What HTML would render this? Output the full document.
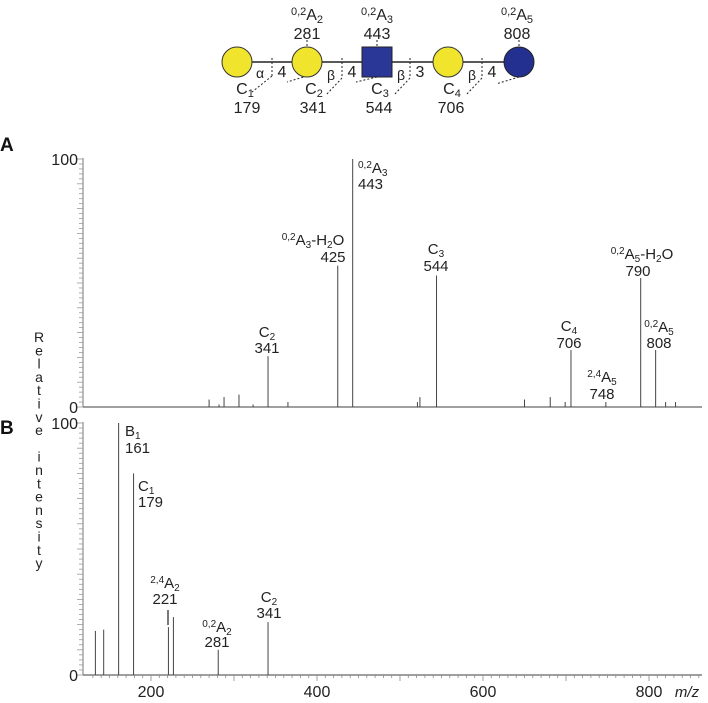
<!DOCTYPE html>
<html><head><meta charset="utf-8"><style>
html,body{margin:0;padding:0;background:#fff;}
svg{display:block;font-family:"Liberation Sans",Arial,sans-serif;}
.t{font-size:15px;fill:#222;}
.g{font-size:16px;fill:#222;}
</style></head><body>
<svg id="chart" width="708" height="703" viewBox="0 0 708 703" xmlns="http://www.w3.org/2000/svg">
<g id="glycan">
  <line x1="237" y1="62" x2="519" y2="62" stroke="#222" stroke-width="1.5"/>
  <g stroke="#222" stroke-width="1" stroke-dasharray="2,2" fill="none">
    <line x1="272" y1="58" x2="272" y2="76"/><line x1="272" y1="76" x2="252" y2="92"/>
    <line x1="342" y1="58" x2="342" y2="78"/><line x1="342" y1="78" x2="326" y2="95"/>
    <line x1="410" y1="58" x2="410" y2="78"/><line x1="410" y1="78" x2="394" y2="95"/>
    <line x1="482" y1="58" x2="482" y2="78"/><line x1="482" y1="78" x2="466" y2="95"/>
    <line x1="307" y1="40" x2="307" y2="76"/><line x1="307" y1="76" x2="287" y2="82"/>
    <line x1="377" y1="40" x2="377" y2="77"/><line x1="377" y1="77" x2="356" y2="82"/>
    <line x1="519" y1="40" x2="519" y2="77"/><line x1="519" y1="77" x2="496" y2="84"/>
  </g>
  <circle cx="237" cy="62" r="15" fill="#f0e52c" stroke="#333"/>
  <circle cx="307" cy="62" r="15" fill="#f0e52c" stroke="#333"/>
  <rect x="362" y="47" width="30" height="30" fill="#2b3796" stroke="#222"/>
  <circle cx="448" cy="62" r="15" fill="#f0e52c" stroke="#333"/>
  <circle cx="519" cy="62" r="15" fill="#23308f" stroke="#222"/>
  <g class="g" text-anchor="middle">
    <text x="307" y="20"><tspan font-size="11" dy="-5">0,2</tspan><tspan dy="5">A</tspan><tspan font-size="11" dy="3">2</tspan></text>
    <text x="307" y="39">281</text>
    <text x="377" y="20"><tspan font-size="11" dy="-5">0,2</tspan><tspan dy="5">A</tspan><tspan font-size="11" dy="3">3</tspan></text>
    <text x="377" y="39">443</text>
    <text x="517" y="20"><tspan font-size="11" dy="-5">0,2</tspan><tspan dy="5">A</tspan><tspan font-size="11" dy="3">5</tspan></text>
    <text x="517" y="39">808</text>
    <text x="245" y="94">C<tspan font-size="11" dy="3">1</tspan></text>
    <text x="247" y="113">179</text>
    <text x="314" y="94">C<tspan font-size="11" dy="3">2</tspan></text>
    <text x="313" y="113">341</text>
    <text x="380" y="94">C<tspan font-size="11" dy="3">3</tspan></text>
    <text x="379" y="113">544</text>
    <text x="452" y="94">C<tspan font-size="11" dy="3">4</tspan></text>
    <text x="451" y="113">706</text>
    <text x="260" y="78" font-size="14">α</text>
    <text x="282" y="77">4</text>
    <text x="331" y="80" font-size="14">β</text>
    <text x="352" y="77">4</text>
    <text x="401" y="80" font-size="14">β</text>
    <text x="420" y="77">3</text>
    <text x="472" y="80" font-size="14">β</text>
    <text x="492" y="77">4</text>
  </g>
</g>
<text x="0" y="151" font-size="19" font-weight="bold" fill="#111">A</text>
<text x="0" y="434" font-size="19" font-weight="bold" fill="#111">B</text>
<g id="ylab"></g>
<g id="axes"></g>
<g id="marks"></g>
<g id="labels" class="t"></g>
</svg>
<script>
// Panel A data
const mzA = [270, 282, 288, 306, 323, 341, 365, 425, 443, 521, 524, 544, 650, 681, 699, 706, 748, 790, 808, 820, 832];
const intA = [3, 1, 4, 5, 1, 20.5, 2, 57, 100, 2, 4, 53, 3, 4, 2, 23, 2, 52, 23, 2, 2];
// Panel B data
const mzB = [133, 143, 161, 179, 221, 227, 281, 341];
const intB = [17.5, 18, 100, 80, 19, 23, 10, 21];
const xTicks = [200, 400, 600, 800];
const yTicks = [0, 100];

const NS = "http://www.w3.org/2000/svg";
const X0 = 83, X1 = 702;
const x = m => 151 + (m - 200) * 0.83;
const panels = [
  {base: 407, top: 159, name: 'a'},
  {base: 675, top: 423, name: 'b'}
];
function yOf(p, v) { return p.base - (p.base - p.top) * v / 100; }
function mk(tag, attrs, parent) {
  const e = document.createElementNS(NS, tag);
  for (const k in attrs) e.setAttribute(k, attrs[k]);
  parent.appendChild(e);
  return e;
}
const axes = document.getElementById('axes');
const marks = document.getElementById('marks');
const labels = document.getElementById('labels');

panels.forEach((p, pi) => {
  const yl = mk('line', {x1: X0, y1: p.top - 1, x2: X0, y2: p.base, stroke: '#777', 'stroke-width': 1}, axes);
  
  
  const xl = mk('line', {x1: X0, y1: p.base, x2: X1, y2: p.base, stroke: '#666', 'stroke-width': 1.2}, axes);
  
  
  for (let v = 0; v <= 100; v += 2) {
    const yy = yOf(p, v);
    const len = (v % 10 === 0) ? 6 : 4;
    mk('line', {x1: X0 - len, y1: yy, x2: X0, y2: yy, stroke: '#999', 'stroke-width': 0.8}, axes);
  }
  yTicks.forEach(v => {
    const t = mk('text', {x: 78, y: yOf(p, v) + 6, 'text-anchor': 'end', 'font-size': 16, fill: '#222'}, axes);
    t.textContent = String(v);
    
    
  });
});
// x ticks on B
const pB = panels[1];
for (let m = 130; m <= 860; m += 10) {
  const xx = x(m);
  if (xx < X0 || xx > X1) continue;
  const len = (m % 100 === 0) ? 6 : 3;
  mk('line', {x1: xx, y1: pB.base, x2: xx, y2: pB.base + len, stroke: '#888', 'stroke-width': 0.8}, axes);
}
xTicks.forEach(v => {
  const t = mk('text', {x: x(v), y: 697, 'text-anchor': 'middle', 'font-size': 16, fill: '#222'}, axes);
  t.textContent = String(v);
  
  
});
const mzl = mk('text', {x: 687, y: 697, 'text-anchor': 'middle', 'font-size': 15, 'font-style': 'italic', fill: '#222'}, axes);
mzl.textContent = 'm/z';



function drawPeaks(p, mz, it) {
  mz.forEach((m, i) => {
    const l = mk('line', {x1: x(m), y1: p.base, x2: x(m), y2: yOf(p, it[i]), stroke: '#444', 'stroke-width': 1}, marks);
    
    
  });
}
drawPeaks(panels[0], mzA, intA);
drawPeaks(panels[1], mzB, intB);

// y-axis title stacked letters
const ylab = document.getElementById('ylab');
const word = 'Relative intensity';
let yy = 342;
for (const ch of word) {
  if (ch !== ' ') {
    const t = mk('text', {x: 39, y: yy, 'text-anchor': 'middle', 'font-size': 14, fill: '#222'}, ylab);
    t.textContent = ch;
  }
  yy += 13.3;
}

// annotations: [text-html parts, x, y, anchor]
function ann(parts, xx, yy2, anchor, name) {
  const t = mk('text', {x: xx, y: yy2, 'text-anchor': anchor}, labels);
  
  
  parts.forEach(pt => {
    const s = mk('tspan', {}, t);
    if (pt[1] === 'sup') { s.setAttribute('font-size', 10); s.setAttribute('dy', -5); }
    else if (pt[1] === 'sub') { s.setAttribute('font-size', 10); s.setAttribute('dy', 3); }
    else if (pt[1] === 'n') { s.setAttribute('dy', pt[2] || 0); }
    s.textContent = pt[0];
  });
}
const A = 'A';
ann([['C',''],['2','sub']], 267, 337, 'middle', 'label-a-c2');
ann([['341','']], 267, 353, 'middle', 'label-a-341');
ann([['0,2','sup'],['A','n',5],['3','sub'],['-H','n',-3],['2','sub'],['O','n',-3]], 313, 245, 'middle', 'label-a-02a3-h2o');
ann([['425','']], 333, 262, 'middle', 'label-a-425');
ann([['0,2','sup'],['A','n',5],['3','sub']], 358, 173, 'start', 'label-a-02a3');
ann([['443','']], 358, 189, 'start', 'label-a-443');
ann([['C',''],['3','sub']], 436, 254, 'middle', 'label-a-c3');
ann([['544','']], 436, 271, 'middle', 'label-a-544');
ann([['C',''],['4','sub']], 569, 331, 'middle', 'label-a-c4');
ann([['706','']], 569, 348, 'middle', 'label-a-706');
ann([['2,4','sup'],['A','n',5],['5','sub']], 602, 382, 'middle', 'label-a-24a5');
ann([['748','']], 602, 399, 'middle', 'label-a-748');
ann([['0,2','sup'],['A','n',5],['5','sub'],['-H','n',-3],['2','sub'],['O','n',-3]], 642, 259, 'middle', 'label-a-02a5-h2o');
ann([['790','']], 638, 276, 'middle', 'label-a-790');
ann([['0,2','sup'],['A','n',5],['5','sub']], 659, 332, 'middle', 'label-a-02a5');
ann([['808','']], 659, 348, 'middle', 'label-a-808');
ann([['B',''],['1','sub']], 125, 436, 'start', 'label-b-b1');
ann([['161','']], 125, 453, 'start', 'label-b-161');
ann([['C',''],['1','sub']], 138, 491, 'start', 'label-b-c1');
ann([['179','']], 138, 507, 'start', 'label-b-179');
ann([['2,4','sup'],['A','n',5],['2','sub']], 165, 588, 'middle', 'label-b-24a2');
ann([['221','']], 165, 604, 'middle', 'label-b-221');
mk('line', {x1: 168, y1: 610, x2: 168, y2: 625, stroke: '#222', 'stroke-width': 1.2}, labels);
ann([['0,2','sup'],['A','n',5],['2','sub']], 217, 632, 'middle', 'label-b-02a2');
ann([['281','']], 217, 647, 'middle', 'label-b-281');
ann([['C',''],['2','sub']], 269, 602, 'middle', 'label-b-c2');
ann([['341','']], 269, 618, 'middle', 'label-b-341');
</script>
</body></html>
